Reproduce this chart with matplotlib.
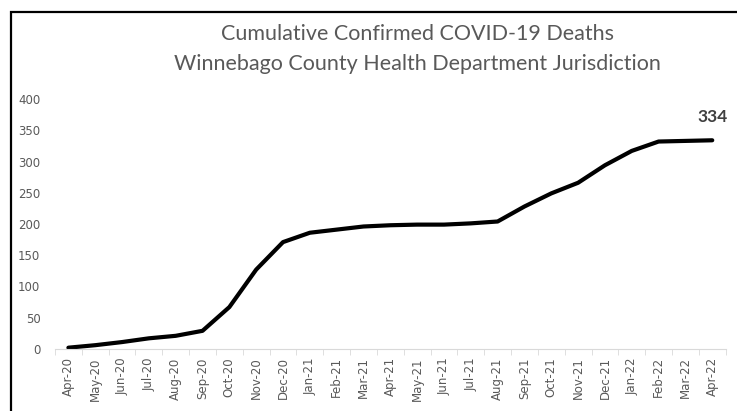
import matplotlib.pyplot as plt
from matplotlib.patches import Rectangle

months = ['Apr-20', 'May-20', 'Jun-20', 'Jul-20', 'Aug-20', 'Sep-20', 'Oct-20',
          'Nov-20', 'Dec-20', 'Jan-21', 'Feb-21', 'Mar-21', 'Apr-21', 'May-21',
          'Jun-21', 'Jul-21', 'Aug-21', 'Sep-21', 'Oct-21', 'Nov-21', 'Dec-21',
          'Jan-22', 'Feb-22', 'Mar-22', 'Apr-22']
deaths = [2, 6, 11, 17, 21, 29, 67, 127, 171, 186, 191, 196, 198, 199,
          199, 201, 204, 228, 249, 266, 294, 317, 332, 333, 334]

grey = '#595959'

fig = plt.figure(figsize=(7.37, 4.11), dpi=100)
ax = fig.add_axes([0.0746, 0.151, 0.91, 0.608])

x = list(range(len(months)))
ax.plot(x, deaths, color='black', linewidth=3, solid_capstyle='round', clip_on=False)

# label on last point
ax.annotate(str(deaths[-1]), (x[-1], deaths[-1]), xytext=(0, 17),
            textcoords='offset points', ha='center', va='center',
            fontsize=12.5, fontweight='bold', color='#404040', family='Lato')

ax.set_xlim(-0.5, len(months) - 0.5)
ax.set_ylim(0, 400)
ax.set_yticks(range(0, 401, 50))
ax.set_xticks(x)
ax.set_xticklabels(months, rotation=90, fontsize=8.5, color=grey)
ax.set_xticks([i - 0.5 for i in range(len(months) + 1)], minor=True)
ax.tick_params(axis='x', which='major', length=0, pad=6)
ax.tick_params(axis='x', which='minor', length=4, color='#d9d9d9', direction='out')
ax.tick_params(axis='y', length=0, pad=10.5, labelsize=8.5, labelcolor=grey)

for s in ['top', 'right', 'left']:
    ax.spines[s].set_visible(False)
ax.spines['bottom'].set_color('#d9d9d9')

fig.text(0.567, 0.918, 'Cumulative Confirmed COVID-19 Deaths', ha='center', va='center',
         fontsize=15.5, color=grey, family='Lato')
fig.text(0.567, 0.845, 'Winnebago County Health Department Jurisdiction', ha='center',
         va='center', fontsize=15.5, color=grey, family='Lato')

# chart border (cut off at right and bottom)
fig.patches.append(Rectangle((0.0149, -0.1), 1.2, 1.0708, transform=fig.transFigure,
                             fill=False, edgecolor='black', linewidth=1.6))

fig.savefig('out.png', dpi=100)
